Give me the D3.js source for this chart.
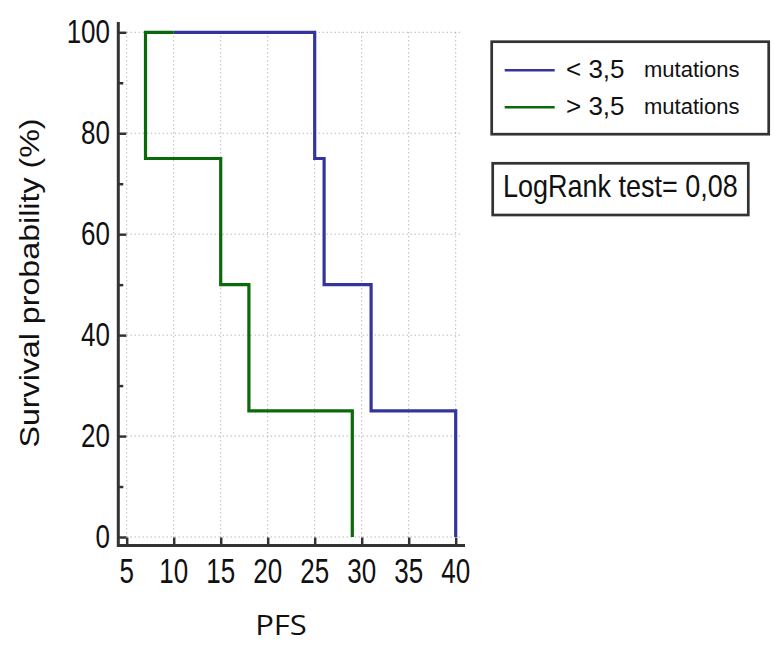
<!DOCTYPE html>
<html>
<head>
<meta charset="utf-8">
<script src="https://cdn.jsdelivr.net/npm/d3@7"></script>
<style>
  body { margin: 0; background: #fff; }
  text { font-family: "Liberation Sans", Arial, sans-serif; fill: #111; }
</style>
</head>
<body>
<div id="chart"></div>
<script>
// step curves (time, survival %)
const blueTime = [10, 25, 26, 31, 40];
const blueSurv = [100, 75, 50, 25, 0];
const greenTime = [10, 7, 15, 18, 29];
const greenSurv = [100, 75, 50, 25, 0];

const xTicks = [5, 10, 15, 20, 25, 30, 35, 40];
const yTicks = [0, 20, 40, 60, 80, 100];
const yMinor = [10, 30, 50, 70, 90];

const legendLabels = ["< 3,5", "> 3,5"];
const legendSuffix = "mutations";
const testLabel = "LogRank test= 0,08";
const colors = ["#34349c", "#0a6a0a"];

const width = 775, height = 656;

let svg = d3.select("#chart").append("svg")
    .attr("width", width)
    .attr("height", height);

let x = d3.scaleLinear().domain([5, 40]).range([126.7, 455.7]);
let y = d3.scaleLinear().domain([0, 100]).range([537, 32.3]);

// dotted grid
let grid = svg.append("g")
    .attr("stroke", "#999")
    .attr("stroke-width", 1)
    .attr("stroke-dasharray", "1,3");
grid.selectAll(".vg").data(xTicks).enter().append("line")
    .attr("x1", d => x(d)).attr("x2", d => x(d))
    .attr("y1", y(100)).attr("y2", y(0));
grid.selectAll(".hg").data(yTicks).enter().append("line")
    .attr("x1", x(5)).attr("x2", 462)
    .attr("y1", d => y(d)).attr("y2", d => y(d));

// axes (ticks point inwards)
let axisX = 118.3, axisY = 545.5;
let yAxis = d3.axisLeft(y).tickValues(yTicks).tickSize(-8).tickFormat("");
let yAxisMinor = d3.axisLeft(y).tickValues(yMinor).tickSize(-5).tickFormat("");
let xAxis = d3.axisBottom(x).tickValues(xTicks).tickSize(-8).tickFormat("");

[yAxis, yAxisMinor].forEach(function(ax) {
    svg.append("g")
        .attr("transform", "translate(" + axisX + ",0)")
        .call(ax)
        .call(g => g.select(".domain").remove())
        .selectAll("line").attr("stroke", "#333").attr("stroke-width", 2.5);
});
svg.append("g")
    .attr("transform", "translate(0," + axisY + ")")
    .call(xAxis)
    .call(g => g.select(".domain").remove())
    .selectAll("line").attr("stroke", "#333").attr("stroke-width", 2.5);

svg.append("path")
    .attr("d", "M" + axisX + ",22V" + axisY + "H465")
    .attr("fill", "none")
    .attr("stroke", "#333")
    .attr("stroke-width", 3);

// tick labels (source image is stretched vertically)
svg.selectAll(".ylab").data(yTicks).enter().append("text")
    .attr("transform", d => "translate(110," + (y(d) + 11) + ") scale(1,1.3)")
    .attr("text-anchor", "end")
    .attr("font-size", 26)
    .text(d => d);
svg.selectAll(".xlab").data(xTicks).enter().append("text")
    .attr("transform", d => "translate(" + x(d) + ",583) scale(1,1.33)")
    .attr("text-anchor", "middle")
    .attr("font-size", 26)
    .text(d => d);

// axis titles
svg.append("text")
    .attr("transform", "translate(38.5,283) rotate(-90) scale(1.15,1)")
    .attr("text-anchor", "middle")
    .attr("font-size", 28)
    .text("Survival probability (%)");
svg.append("text")
    .attr("transform", "translate(281,635) scale(1.15,1)")
    .attr("text-anchor", "middle")
    .attr("font-size", 27)
    .style("font-family", "'Open Sans', sans-serif")
    .text("PFS");

// survival curves
let step = d3.line()
    .x(d => x(d[0]))
    .y(d => y(d[1]))
    .curve(d3.curveStepAfter);
let series = [d3.zip(blueTime, blueSurv), d3.zip(greenTime, greenSurv)];
svg.selectAll(".curve").data(series).enter().append("path")
    .attr("fill", "none")
    .attr("stroke", (d, i) => colors[i])
    .attr("stroke-width", 3.2)
    .attr("d", step);

// legend
svg.append("rect")
    .attr("x", 491.7).attr("y", 41.7)
    .attr("width", 277).attr("height", 92.5)
    .attr("fill", "#fff")
    .attr("stroke", "#333")
    .attr("stroke-width", 2.7);
let leg = svg.selectAll(".leg").data(legendLabels).enter().append("g")
    .attr("transform", (d, i) => "translate(0," + (i * 37) + ")");
leg.append("line")
    .attr("x1", 504.7).attr("x2", 554.7)
    .attr("y1", 70.3).attr("y2", 70.3)
    .attr("stroke", (d, i) => colors[i])
    .attr("stroke-width", 2.5);
leg.append("text")
    .attr("x", 566).attr("y", 78)
    .attr("font-size", 26)
    .text(d => d);
leg.append("text")
    .attr("x", 644).attr("y", 77.3)
    .attr("font-size", 22)
    .text(legendSuffix);

// test box
svg.append("rect")
    .attr("x", 492.7).attr("y", 163.3)
    .attr("width", 255.6).attr("height", 51.7)
    .attr("fill", "#fff")
    .attr("stroke", "#333")
    .attr("stroke-width", 2.7);
svg.append("text")
    .attr("transform", "translate(503,197.3) scale(1,1.17)")
    .attr("font-size", 27)
    .text(testLabel);
</script>
</body>
</html>
